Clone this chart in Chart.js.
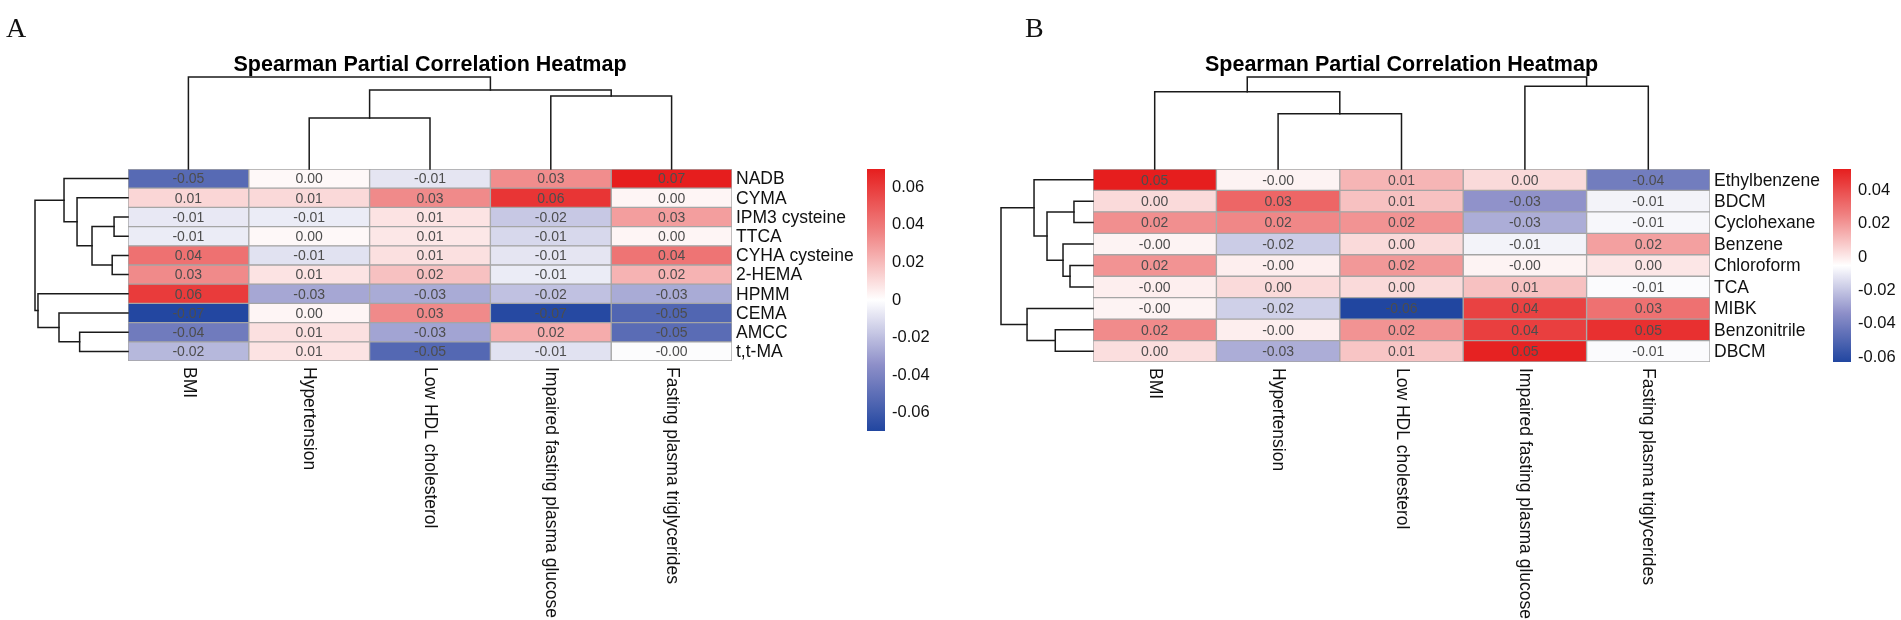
<!DOCTYPE html>
<html><head><meta charset="utf-8">
<script src="https://cdn.jsdelivr.net/npm/chart.js@4.4.1/dist/chart.umd.min.js"></script>
<style>
html,body{margin:0;padding:0;background:#fff;width:1901px;height:620px;overflow:hidden;}
canvas{position:absolute;top:0;}
</style></head><body>
<canvas id="heatA" width="860" height="620" style="left:0;width:860px;height:620px"></canvas>
<canvas id="legA" width="100" height="620" style="left:860px;width:100px;height:620px"></canvas>
<canvas id="heatB" width="961" height="620" style="left:940px;width:961px;height:620px"></canvas>
<canvas id="legB" width="78" height="620" style="left:1823px;width:78px;height:620px"></canvas>
<script>
// ---------------- data ----------------
const colLabels = ['BMI','Hypertension','Low HDL cholesterol','Impaired fasting plasma glucose','Fasting plasma triglycerides'];

const rowsA = ['NADB','CYMA','IPM3 cysteine','TTCA','CYHA cysteine','2-HEMA','HPMM','CEMA','AMCC','t,t-MA'];
const bmiA = [-0.052, 0.012, -0.007, -0.006, 0.042, 0.034, 0.060, -0.069, -0.044, -0.022];
const hypA = [0.002, 0.011, -0.006, 0.002, -0.009, 0.008, -0.027, 0.003, 0.009, 0.008];
const hdlA = [-0.008, 0.034, 0.008, 0.007, 0.009, 0.018, -0.026, 0.034, -0.028, -0.053];
const ifgA = [0.033, 0.062, -0.017, -0.012, -0.008, -0.006, -0.019, -0.068, 0.024, -0.009];
const fptA = [0.0696, 0.003, 0.028, 0.003, 0.041, 0.022, -0.026, -0.054, -0.051, -0.001];

const rowsB = ['Ethylbenzene','BDCM','Cyclohexane','Benzene','Chloroform','TCA','MIBK','Benzonitrile','DBCM'];
const bmiB = [0.053, 0.004, 0.022, -0.002, 0.021, -0.001, -0.002, 0.023, 0.003];
const hypB = [-0.002, 0.033, 0.024, -0.018, -0.001, 0.004, -0.017, -0.001, -0.026];
const hdlB = [0.013, 0.010, 0.021, 0.004, 0.020, 0.004, -0.063, 0.021, 0.009];
const ifgB = [0.004, -0.033, -0.026, -0.008, -0.002, 0.010, 0.043, 0.044, 0.052];
const fptB = [-0.041, -0.008, -0.007, 0.018, 0.001, -0.006, 0.030, 0.048, -0.006];

const rangeA = [-0.0696, 0.0696];
const rangeB = [-0.063, 0.053];
const legendTicksA = [-0.06, -0.04, -0.02, 0, 0.02, 0.04, 0.06];
const legendTicksB = [-0.06, -0.04, -0.02, 0, 0.02, 0.04];

// dendrograms: leaves are indices, nodes {h: relative merge height, c: [left, right]}
const colTreeA = {h:1, c:[0, {h:0.859, c:[{h:0.554, c:[1,2]}, {h:0.793, c:[3,4]}]}]};
const rowTreeA = {h:1, c:[
  {h:0.688, c:[0, {h:0.548, c:[1, {h:0.387, c:[{h:0.15, c:[2,3]}, {h:0.17, c:[4,5]}]}]}]},
  {h:0.968, c:[6, {h:0.742, c:[7, {h:0.52, c:[8,9]}]}]}
]};
const colTreeB = {h:1, c:[{h:0.84, c:[0, {h:0.6, c:[1,2]}]}, {h:0.9, c:[3,4]}]};
const rowTreeB = {h:1, c:[
  {h:0.641, c:[0, {h:0.5, c:[{h:0.207, c:[1,2]}, {h:0.326, c:[3, {h:0.25, c:[4,5]}]}]}]},
  {h:0.717, c:[6, {h:0.41, c:[7,8]}]}
]};

// ---------------- style helpers ----------------
const FONT = '"Liberation Sans", Arial, Helvetica, sans-serif';
const STOPS = [
  [0.00, [33, 70, 160]],
  [0.25, [140, 142, 200]],
  [0.50, [255, 255, 255]],
  [0.75, [240, 135, 135]],
  [1.00, [230, 30, 30]]
];
function colorFor(v, vmin, vmax) {
  let t = (v - vmin) / (vmax - vmin);
  t = Math.max(0, Math.min(1, t));
  for (let i = 1; i < STOPS.length; i++) {
    if (t <= STOPS[i][0]) {
      const [t0, c0] = STOPS[i-1], [t1, c1] = STOPS[i];
      const f = (t - t0) / (t1 - t0);
      const c = c0.map((x, k) => Math.round(x + (c1[k] - x) * f));
      return `rgb(${c[0]},${c[1]},${c[2]})`;
    }
  }
  return 'rgb(230,30,30)';
}
function drawText(ctx, txt, x, y, o) {
  o = Object.assign({size:17, weight:'normal', family:FONT, color:'#1a1a1a', align:'left', baseline:'middle', sx:1, rot:0}, o || {});
  ctx.save();
  ctx.translate(x, y);
  if (o.rot) ctx.rotate(o.rot);
  ctx.font = `${o.weight} ${o.size}px ${o.family}`;
  ctx.scale(o.sx, 1);
  ctx.fillStyle = o.color; ctx.textAlign = o.align; ctx.textBaseline = o.baseline;
  ctx.fillText(txt, 0, 0);
  ctx.restore();
}
function drawTree(ctx, node, leafPos, base, span, horizontal) {
  if (typeof node === 'number') return [leafPos(node), base];
  const a = drawTree(ctx, node.c[0], leafPos, base, span, horizontal);
  const b = drawTree(ctx, node.c[1], leafPos, base, span, horizontal);
  const lvl = base - node.h * span;
  ctx.beginPath();
  if (horizontal) {
    ctx.moveTo(a[0], a[1]); ctx.lineTo(a[0], lvl); ctx.lineTo(b[0], lvl); ctx.lineTo(b[0], b[1]);
  } else {
    ctx.moveTo(a[1], a[0]); ctx.lineTo(lvl, a[0]); ctx.lineTo(lvl, b[0]); ctx.lineTo(b[1], b[0]);
  }
  ctx.stroke();
  return [(a[0] + b[0]) / 2, lvl];
}

function makeHeat(id, rows, cols, range, pad, deco) {
  const datasets = cols.map((vals, c) => ({
    label: colLabels[c],
    data: rows.map(() => [c, c + 1]),
    values: vals,
    backgroundColor: vals.map(v => colorFor(v, range[0], range[1])),
    borderColor: '#a5a5a5', borderWidth: 1, borderSkipped: false,
    grouped: false, barPercentage: 1, categoryPercentage: 1
  }));
  const decoPlugin = {
    id: 'deco_' + id,
    afterDatasetsDraw(chart) {
      const ctx = chart.ctx, ca = chart.chartArea;
      const xs = chart.scales.x, ys = chart.scales.y;
      chart.data.datasets.forEach((ds, c) => {
        const meta = chart.getDatasetMeta(c);
        meta.data.forEach((el, r) => {
          const cx = (el.x + el.base) / 2;
          drawText(ctx, ds.values[r].toFixed(2), cx, el.y + 1, {size:14, color:'#4d4d4d', align:'center'});
        });
      });
      rows.forEach((lab, r) => drawText(ctx, lab, ca.right + 4, ys.getPixelForValue(r) + 1, {size:17.5, color:'#111'}));
      colLabels.forEach((lab, c) => drawText(ctx, lab, xs.getPixelForValue(c + 0.5), ca.bottom + 6, {size:17.5, color:'#111', rot:Math.PI/2}));
      ctx.save();
      ctx.strokeStyle = '#1a1a1a'; ctx.lineWidth = 1.5; ctx.lineCap = 'square';
      drawTree(ctx, deco.colTree, i => xs.getPixelForValue(i + 0.5), ca.top, deco.colSpan, true);
      drawTree(ctx, deco.rowTree, i => ys.getPixelForValue(i), ca.left, deco.rowSpan, false);
      ctx.restore();
      drawText(ctx, 'Spearman Partial Correlation Heatmap', (ca.left + ca.right) / 2, deco.titleY, {size:21.5, weight:'bold', color:'#000', align:'center'});
      drawText(ctx, deco.letter, deco.letterX, deco.letterY, {size:28, family:'"Liberation Serif", "Times New Roman", serif', color:'#111', align:'left', baseline:'alphabetic'});
    }
  };
  return new Chart(document.getElementById(id), {
    type: 'bar',
    data: {labels: rows, datasets},
    options: {
      indexAxis: 'y', responsive: false, animation: false,
      layout: {padding: pad},
      plugins: {legend: {display: false}, tooltip: {enabled: false}, title: {display: false}},
      scales: {
        x: {type: 'linear', min: 0, max: 5, display: false},
        y: {type: 'category', display: false}
      }
    },
    plugins: [decoPlugin]
  });
}

function makeLegend(id, range, ticks, pad, axisW) {
  const [vmin, vmax] = range;
  return new Chart(document.getElementById(id), {
    type: 'bar',
    data: {labels: [''], datasets: [{
      data: [[vmin, vmax]],
      backgroundColor: (c) => {
        const ch = c.chart, a = ch.chartArea;
        if (!a) return '#fff';
        const g = ch.ctx.createLinearGradient(0, a.bottom, 0, a.top);
        for (let k = 0; k <= 40; k++) { const t = k / 40; g.addColorStop(t, colorFor(vmin + t * (vmax - vmin), vmin, vmax)); }
        return g;
      },
      borderWidth: 0, barPercentage: 1, categoryPercentage: 1
    }]},
    options: {
      responsive: false, animation: false,
      layout: {padding: pad},
      plugins: {legend: {display: false}, tooltip: {enabled: false}},
      scales: {
        x: {display: false},
        y: {type: 'linear', position: 'right', min: vmin, max: vmax,
            grid: {display: false, drawTicks: false}, border: {display: false},
            afterBuildTicks: s => { s.ticks = ticks.map(v => ({value: v})); },
            afterFit: s => { s.width = axisW; },
            ticks: {font: {size: 16.5, family: FONT}, color: '#111', padding: 7,
                    callback: v => (v === 0 ? '0' : Number(v).toFixed(2))}}
      }
    }
  });
}

makeHeat('heatA', rowsA, [bmiA, hypA, hdlA, ifgA, fptA], rangeA,
  {left: 128, top: 169, right: 860 - 732, bottom: 620 - 361},
  {colTree: colTreeA, rowTree: rowTreeA, colSpan: 92, rowSpan: 93, titleY: 65, letter: 'A', letterX: 6, letterY: 37});
makeLegend('legA', rangeA, legendTicksA, {left: 7, top: 169, right: 0, bottom: 620 - 431}, 75);

makeHeat('heatB', rowsB, [bmiB, hypB, hdlB, ifgB, fptB], rangeB,
  {left: 1093 - 940, top: 169, right: 1901 - 1710, bottom: 620 - 362},
  {colTree: colTreeB, rowTree: rowTreeB, colSpan: 92, rowSpan: 92, titleY: 65, letter: 'B', letterX: 1025 - 940, letterY: 37});
makeLegend('legB', rangeB, legendTicksB, {left: 10, top: 169, right: 0, bottom: 620 - 362}, 50);
</script>
</body></html>
